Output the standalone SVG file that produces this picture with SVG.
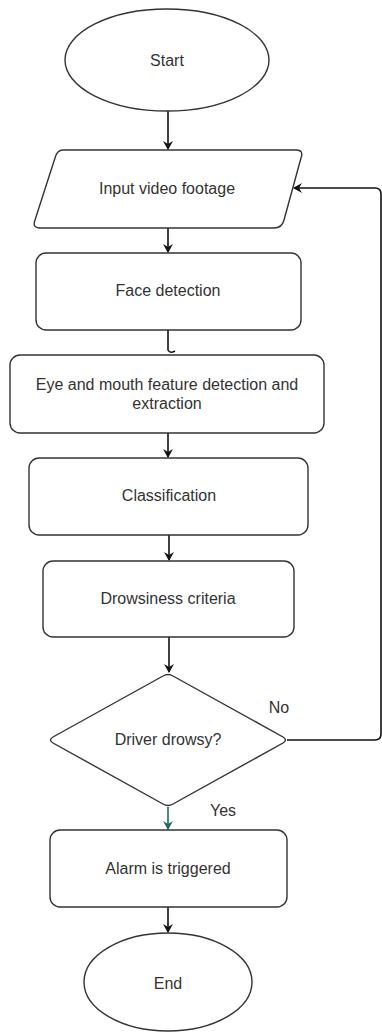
<svg xmlns="http://www.w3.org/2000/svg" width="382" height="1032" viewBox="0 0 382 1032">
<defs>
<marker id="ah" markerWidth="10" markerHeight="10" refX="8" refY="5" orient="auto" markerUnits="userSpaceOnUse"><path d="M0,0 L9,5 L0,10 L3,5 Z" fill="#111"/></marker>
<marker id="ahg" markerWidth="10" markerHeight="10" refX="8" refY="5" orient="auto" markerUnits="userSpaceOnUse"><path d="M0,0 L9,5 L0,10 L3,5 Z" fill="#16705f"/></marker>
<style>
.s{fill:#fff;stroke:#333;stroke-width:1.4}
.t{font-family:"Liberation Sans",Arial,sans-serif;font-size:16px;fill:#333;text-anchor:middle;dominant-baseline:central}
.c{fill:none;stroke:#111;stroke-width:1.6}
</style>
</defs>
<rect width="382" height="1032" fill="#fff"/>
<g id="connectors">
<line class="c" x1="168" y1="111" x2="168" y2="149" marker-end="url(#ah)"/>
<line class="c" x1="168" y1="228" x2="168" y2="252" marker-end="url(#ah)"/>
<path class="c" d="M168,330 L168,350 Q170,354 175,351"/>
<line class="c" x1="168" y1="433" x2="168" y2="457" marker-end="url(#ah)"/>
<line class="c" x1="169" y1="535" x2="169" y2="560" marker-end="url(#ah)"/>
<line class="c" x1="169" y1="637" x2="169" y2="672" marker-end="url(#ah)"/>
<path class="c" d="M287,740 L375,740 Q381,740 381,734 L381,194 Q381,188 375,188 L294,188" marker-end="url(#ah)"/>
<line x1="168" y1="807" x2="168" y2="829" stroke="#16705f" stroke-width="1.6" marker-end="url(#ahg)"/>
<line class="c" x1="168" y1="907" x2="168" y2="932" marker-end="url(#ah)"/>
<text class="t" x="279" y="707">No</text>
<text class="t" x="223" y="810">Yes</text>
</g>
<g id="start">
<ellipse class="s" cx="167" cy="60" rx="102" ry="51"/>
<text class="t" x="167" y="60">Start</text>
</g>
<g id="input">
<path class="s" d="M63,150 L296,150 Q304,150 301,158 L284,220 Q282,228 274,228 L40,228 Q32,228 35,220 L55,158 Q57,150 63,150 Z"/>
<text class="t" x="167" y="188">Input video footage</text>
</g>
<g id="face">
<rect class="s" x="36" y="253" width="265" height="77" rx="10"/>
<text class="t" x="168" y="290">Face detection</text>
</g>
<g id="eye">
<rect class="s" x="10" y="355" width="314" height="78" rx="10"/>
<text class="t" x="167" y="384">Eye and mouth feature detection and</text>
<text class="t" x="167" y="403">extraction</text>
</g>
<g id="classification">
<rect class="s" x="29" y="458" width="279" height="77" rx="10"/>
<text class="t" x="169" y="495">Classification</text>
</g>
<g id="criteria">
<rect class="s" x="43" y="561" width="251" height="76" rx="10"/>
<text class="t" x="168" y="598">Drowsiness criteria</text>
</g>
<g id="decision">
<path class="s" d="M163,676 Q168,673 173,676 L283,737 Q288,740 283,743 L173,804 Q168,807 163,804 L53,743 Q48,740 53,737 Z"/>
<text class="t" x="168" y="739">Driver drowsy?</text>
</g>
<g id="alarm">
<rect class="s" x="50" y="830" width="237" height="77" rx="10"/>
<text class="t" x="168" y="868">Alarm is triggered</text>
</g>
<g id="end">
<ellipse class="s" cx="168" cy="982" rx="84" ry="49"/>
<text class="t" x="168" y="983">End</text>
</g>
</svg>
